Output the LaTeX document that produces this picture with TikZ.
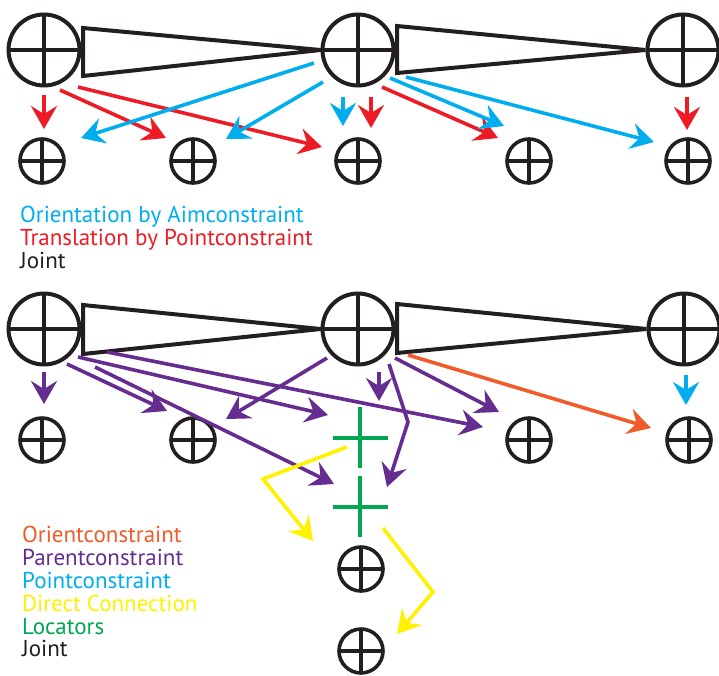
\documentclass[tikz,border=0pt]{standalone}
\usepackage{fontspec}
\setmainfont{PT Sans}
\usetikzlibrary{arrows.meta,calc}

\definecolor{ink}{RGB}{35,31,32}
\definecolor{aimblue}{RGB}{0,174,239}
\definecolor{ptred}{RGB}{237,28,36}
\definecolor{parpurple}{RGB}{102,45,145}
\definecolor{orientorange}{RGB}{241,90,41}
\definecolor{directyellow}{RGB}{255,242,0}
\definecolor{locgreen}{RGB}{0,166,81}

\tikzset{
  jointbase/.style={circle, draw=ink, inner sep=0pt,
    path picture={\draw[ink, line width=#1]
      (path picture bounding box.north) -- (path picture bounding box.south)
      (path picture bounding box.west) -- (path picture bounding box.east);}},
  bigjoint/.style={jointbase=4pt, line width=4pt, minimum size=71pt},
  smalljoint/.style={jointbase=3.6pt, line width=3.6pt, minimum size=44pt},
  bone/.style={draw=ink, line width=4pt, line join=miter},
  cnx/.style={line width=3.6pt, line join=miter,
    -{Stealth[length=23pt, width=26pt, inset=8pt]}},
  legend/.style={anchor=base west, inner sep=0pt, font=\fontsize{23}{26}\selectfont},
  locline/.style={draw=locgreen, line width=3.4pt},
}

\begin{document}
\begin{tikzpicture}[x=1pt, y=-1pt]
\useasboundingbox (0,0) rectangle (719,675);

% ---------- upper chain: aim / point constraints ----------
\node[bigjoint] (J1) at (44,50) {};
\node[bigjoint] (J2) at (358,50) {};
\node[bigjoint] (J3) at (683,50) {};
\draw[bone] (83,28) -- (83,76) -- (J2.west) -- cycle;
\draw[bone] (397,26) -- (397,73) -- (J3.west) -- cycle;

\node[smalljoint] (s1) at (42,161) {};
\node[smalljoint] (s2) at (193,161) {};
\node[smalljoint] (s3) at (358,161) {};
\node[smalljoint] (s4) at (529,161) {};
\node[smalljoint] (s5) at (688,161) {};

% point constraints
\coordinate (r1a) at (44,95);  \coordinate (r1b) at (44,129);
\coordinate (r2a) at (60,90);  \coordinate (r2b) at (166,138);
\coordinate (r3a) at (78,87);  \coordinate (r3b) at (322,147);
\coordinate (r4a) at (371,97); \coordinate (r4b) at (371,128);
\coordinate (r5a) at (382,87); \coordinate (r5b) at (498,138);
\coordinate (r6a) at (687,97); \coordinate (r6b) at (687,130);
\foreach \i in {1,...,6} \draw[cnx, ptred] (r\i a) -- (r\i b);

% aim constraints
\coordinate (b1a) at (314,63);  \coordinate (b1b) at (81,138);
\coordinate (b2a) at (323,82);  \coordinate (b2b) at (226,139);
\coordinate (b3a) at (343,97);  \coordinate (b3b) at (343,126);
\coordinate (b4a) at (390,78);  \coordinate (b4b) at (504,126);
\coordinate (b5a) at (406,77);  \coordinate (b5b) at (654,142);
\foreach \i in {1,...,5} \draw[cnx, aimblue] (b\i a) -- (b\i b);

\node[legend, aimblue] (lgA) at (20,222) {Orientation by Aimconstraint};
\node[legend, ptred]   (lgB) at (20,245) {Translation by Pointconstraint};
\node[legend, ink]     (lgC) at (20,268) {Joint};

% ---------- lower chain: parent / orient / point constraints ----------
\node[bigjoint] (K1) at (44,329) {};
\node[bigjoint] (K2) at (358,329) {};
\node[bigjoint] (K3) at (684,329) {};
\draw[bone] (83,305) -- (83,354) -- (K2.west) -- cycle;
\draw[bone] (397,304) -- (397,353) -- (K3.west) -- cycle;

\node[smalljoint] (t1) at (42,440) {};
\node[smalljoint] (t2) at (193,440) {};
\node[smalljoint] (t3) at (529,440) {};
\node[smalljoint] (t4) at (689,440) {};
\node[smalljoint] (u1) at (361,569) {};
\node[smalljoint] (u2) at (361,651) {};

% locators
\coordinate (L1) at (360,438);
\coordinate (L2) at (360,507);
\foreach \c in {L1,L2} {
  \draw[locline] ($(\c)+(0,-31)$) -- ($(\c)+(0,30)$);
  \draw[locline] ($(\c)+(-27,0)$) -- ($(\c)+(28,0)$);
}

% parent constraints
\coordinate (p1a) at (44,372);  \coordinate (p1b) at (44,404);
\coordinate (p2a) at (67,364);  \coordinate (p2b) at (167,411);
\coordinate (p3a) at (78,357);  \coordinate (p3b) at (328,415);
\coordinate (p4a) at (107,352); \coordinate (p4b) at (483,427);
\coordinate (p5a) at (95,367);  \coordinate (p5b) at (334,484);
\coordinate (p6a) at (327,358); \coordinate (p6b) at (226,419);
\coordinate (p7a) at (379,372); \coordinate (p7b) at (379,401);
\coordinate (p8a) at (395,358); \coordinate (p8b) at (499,412);
\foreach \i in {1,...,8} \draw[cnx, parpurple] (p\i a) -- (p\i b);
\coordinate (p9a) at (389,364); \coordinate (p9m) at (408,422);
\coordinate (p9b) at (387,487);
\draw[cnx, parpurple] (p9a) -- (p9m) -- (p9b);

% orient constraint
\coordinate (o1a) at (408,355); \coordinate (o1b) at (651,428);
\draw[cnx, orientorange] (o1a) -- (o1b);

% point constraint
\coordinate (q1a) at (686,375); \coordinate (q1b) at (686,405);
\draw[cnx, aimblue] (q1a) -- (q1b);

% direct connections
\coordinate (y1a) at (347,447); \coordinate (y1m) at (263,479);
\coordinate (y1b) at (313,541);
\draw[cnx, directyellow] (y1a) -- (y1m) -- (y1b);
\coordinate (y2a) at (383,528); \coordinate (y2m) at (433,592);
\coordinate (y2b) at (397,634);
\draw[cnx, directyellow] (y2a) -- (y2m) -- (y2b);

\node[legend, orientorange] (lg1) at (22,542) {Orientconstraint};
\node[legend, parpurple]    (lg2) at (22,565) {Parentconstraint};
\node[legend, aimblue]      (lg3) at (22,588) {Pointconstraint};
\node[legend, directyellow] (lg4) at (22,611) {Direct Connection};
\node[legend, locgreen]     (lg5) at (22,634) {Locators};
\node[legend, ink]          (lg6) at (22,656) {Joint};
\end{tikzpicture}
\end{document}
